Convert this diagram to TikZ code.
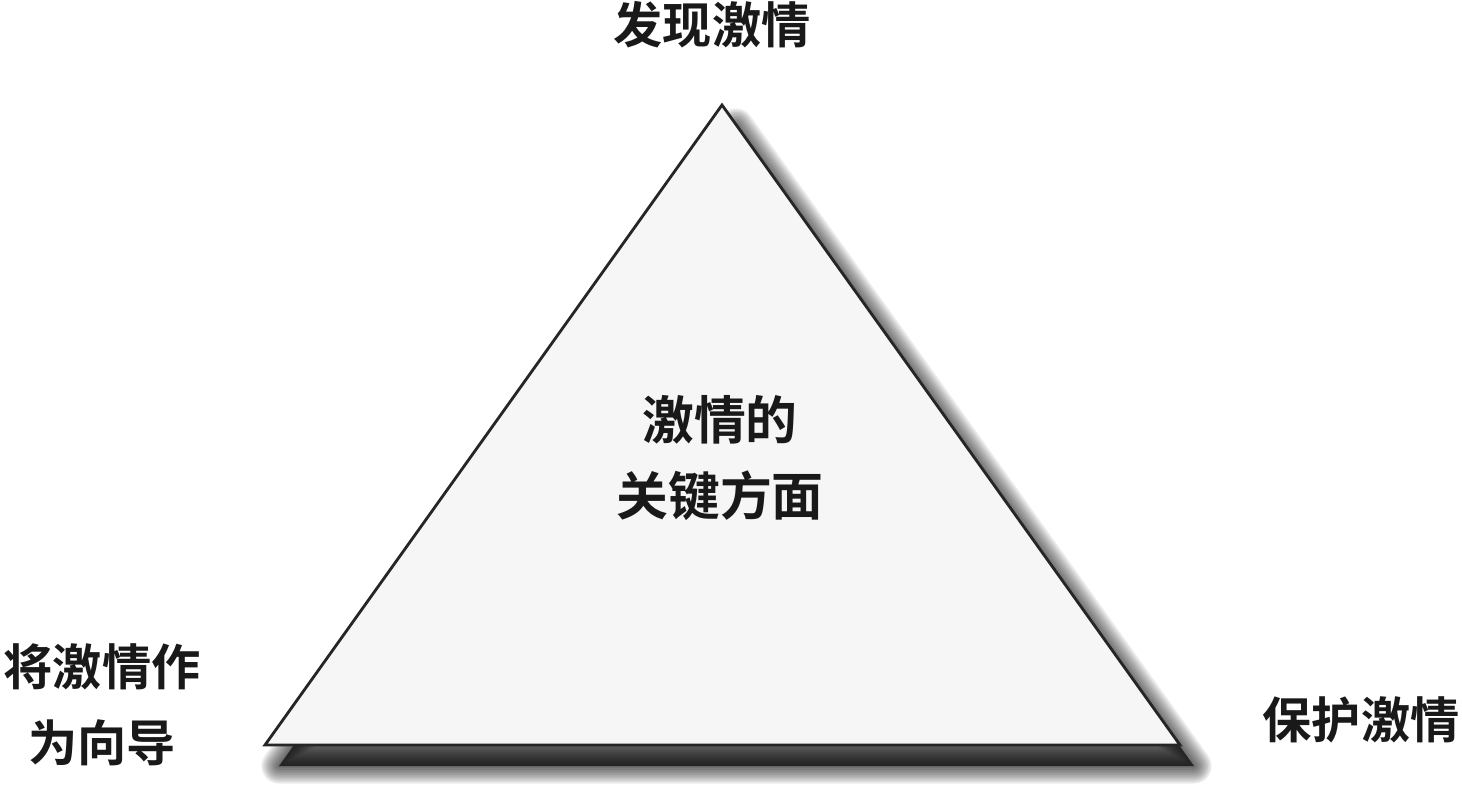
\documentclass[tikz,border=0pt]{standalone}
\usepackage{fontspec}
\newfontfamily\cjk{Noto Sans CJK SC Bold}
\usetikzlibrary{positioning, calc}

\begin{document}
\begin{tikzpicture}[
            % Define styles
            label/.style={font=\cjk\fontsize{28}{43}\selectfont, align=center, text=black!90, inner sep=0pt},
            pyramid/.style={draw=black!85, line width=1.6pt, fill=gray!7, line join=miter},
            shade/.style={line width=#1, draw=black, opacity=0.08, line join=round}
        ]

        \useasboundingbox (0,0) rectangle (29.24,15.96);

        % Corners of the triangle
        \coordinate (apex) at (14.44,13.86);
        \coordinate (left) at (5.30,1.06);
        \coordinate (right) at (23.60,1.06);

        % Corners of the shadow
        \coordinate (sapex) at ($(apex)+(0.28,-0.42)$);
        \coordinate (sleft) at ($(left)+(0.28,-0.42)$);
        \coordinate (sright) at ($(right)+(0.28,-0.42)$);

        % Soft shadow
        \fill[black!65] (sapex) -- (sleft) -- (sright) -- cycle;
        \foreach \w in {2,4,...,20}
            \draw[shade=\w pt] (sapex) -- (sleft) -- (sright) -- cycle;

        % Triangle
        \draw[pyramid] (apex) -- (left) -- (right) -- cycle;

        % Labels
        \node[label, font=\cjk\fontsize{29.5}{43}\selectfont] (core) at (14.40,6.80) {激情的\\关键方面};
        \node[label] (discover) at (14.24,15.46) {发现激情};
        \node[label] (guide) at (2.04,1.86) {将激情作\\为向导};
        \node[label] (protect) at (27.22,1.56) {保护激情};

        \end{tikzpicture}
\end{document}
